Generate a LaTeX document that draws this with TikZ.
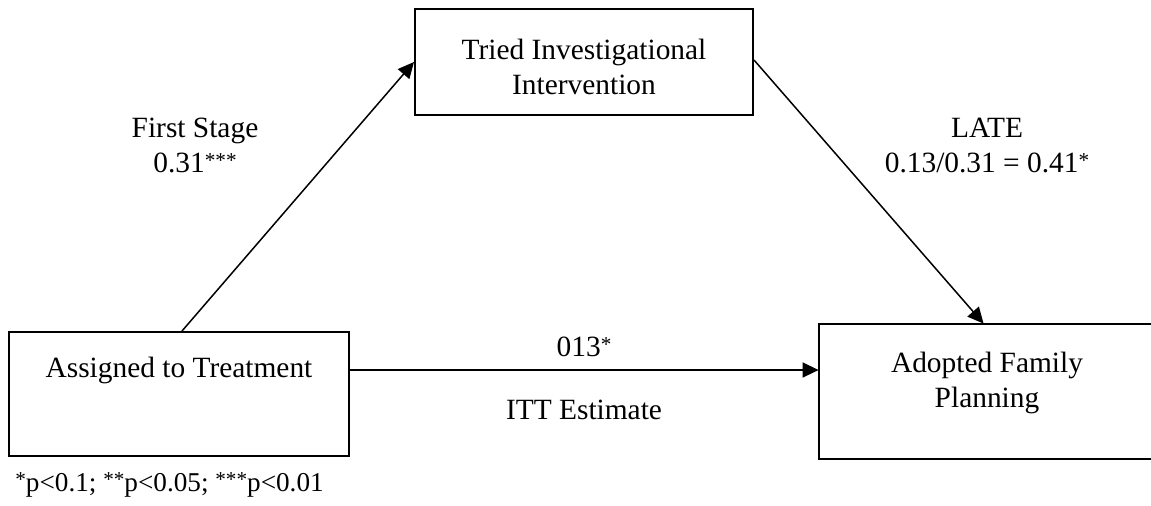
\documentclass[tikz,border=0pt]{standalone}
\usepackage{fontspec}
\setmainfont{Liberation Serif}
\usetikzlibrary{arrows.meta}
\newcommand\astr{{\fontsize{10.6}{10}\selectfont\raisebox{2.4pt}{*}}}
\begin{document}
\begin{tikzpicture}[x=0.5pt,y=-0.5pt,
  every node/.style={font=\fontsize{14.7}{17.5}\selectfont, inner sep=0pt},
  box/.style={draw, line width=1pt, rectangle},
  edge/.style={line width=1pt},
  txt/.style={align=center},
  arr/.style={line width=0.75pt, -{Triangle[length=8pt,width=7.5pt]}}]
\useasboundingbox (0,0) rectangle (1151,505);
\clip (0,0) rectangle (1151,505);
\node[box, minimum width=170pt, minimum height=62pt] (A) at (179,394) {};
\node[box, minimum width=169pt, minimum height=53pt] (B) at (584,62) {};
\node[rectangle, minimum width=250pt, minimum height=67.5pt] (C) at (1069,391.5) {};
\draw[edge] (C.north east) -- (C.north west) -- (C.south west) -- (C.south east);
\node[txt] (At) at (179,370) {Assigned to Treatment};
\node[txt] (Bt) at (584,66.5) {Tried Investigational\\Intervention};
\node[txt] (Ct) at (987,382.5) {Adopted Family\\Planning};
\node[txt] (fs) at (195,145) {First Stage\\0.31\astr\astr\astr};
\node[txt] (late) at (987,145) {LATE\\0.13/0.31 = 0.41\astr};
\node[txt] (itt1) at (584,347) {013\astr};
\node[txt] (itt2) at (584,410) {ITT Estimate};
\node[anchor=west, font=\fontsize{13.6}{16}\selectfont] (foot) at (15,485) {\astr p<0.1; \astr\astr p<0.05; \astr\astr\astr p<0.01};
\draw[arr] ([xshift=1.5pt]A.north) -- (B.west);
\draw[arr] ([yshift=1pt]B.east) -- ([xshift=82.5pt]C.north west);
\draw[arr] ([yshift=12pt]A.east) -- ([yshift=12pt]A.east -| C.west);
\end{tikzpicture}
\end{document}
